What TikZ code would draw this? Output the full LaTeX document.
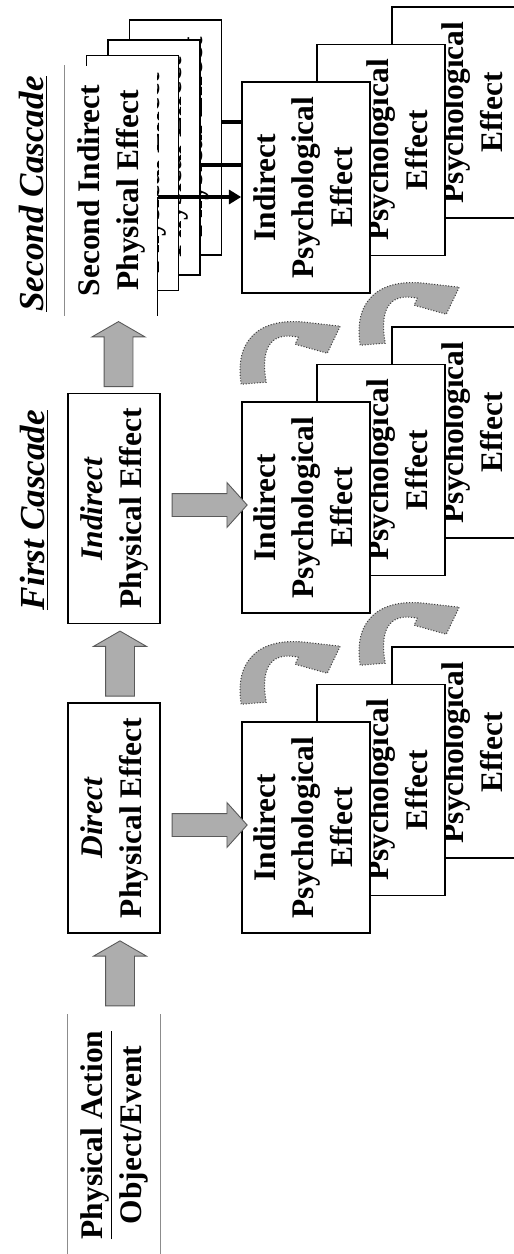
\documentclass[tikz,border=0pt]{standalone}
\usepackage{fontspec}
\setmainfont{Liberation Serif}
\usetikzlibrary{positioning,calc,shapes.arrows,arrows.meta}

\newcommand{\vtext}[1]{\rotatebox{90}{\begin{tabular}{@{}c@{}}#1\end{tabular}}}

\begin{document}
\begin{tikzpicture}[
box/.style={rectangle, draw, fill=white, line width=0.9pt, minimum width=1.84cm, minimum height=4.6cm, inner sep=0pt, font=\fontsize{17.9}{22}\selectfont\bfseries},
psybox/.style={box, minimum width=2.56cm, minimum height=4.22cm},
stackbox/.style={box, minimum height=4.7cm},
openbox/.style={box, draw=none},
edge/.style={line width=0.8pt, black!45},
heading/.style={font=\fontsize{20}{24}\selectfont\bfseries\itshape, inner sep=0pt},
blockarrow/.style={single arrow, draw=black!65, line width=0.5pt, fill=black!32},
uparrow/.style={blockarrow, shape border rotate=90, inner sep=0.28cm, minimum height=1.3cm, single arrow head extend=0.24cm, single arrow tip angle=120},
rightarrow/.style={blockarrow, inner sep=0.22cm, minimum height=1.5cm, single arrow head extend=0.22cm, single arrow tip angle=96},
feed/.style={line width=1.8pt},
curvy/.style={fill=black!33, draw=black!75, densely dotted, line width=0.6pt},
bendarrow/.pic={
  \path[curvy] (-0.24,-0.04) .. controls (-0.38,0.82) and (0.10,1.30) .. (1.04,1.20)
    -- (1.74,1.12) -- (1.48,0.58) -- (0.84,0.76) -- (0.90,0.90)
    .. controls (0.44,1.00) and (0.12,0.80) .. (0.26,0) -- cycle;
}
]
\useasboundingbox (0,0) rectangle (10.28,-25.08);

% headings
\node[heading] (second) at (0.66,-3.88) {\rotatebox{90}{\underline{Second Cascade}}};
\node[heading] (first) at (0.68,-10.20) {\rotatebox{90}{\underline{First Cascade}}};

% physical column
\node[openbox, minimum height=4.8cm] (action) at (2.28,-22.70) {\vtext{\underline{Physical Action}\\Object/Event}};
\draw[edge] (action.north west) -- (action.south west);
\draw[edge] (action.north east) -- (action.south east);

\node[box] (direct) at (2.28,-16.36) {\vtext{\textit{Direct}\\Physical Effect}};
\node[box] (indirect) at (2.28,-10.17) {\vtext{\textit{Indirect}\\Physical Effect}};

% second cascade stack
\node[stackbox] (stackC) at (3.51,-2.75) {\vtext{\phantom{Second Indirect}\\Physical Effect}};
\node[stackbox] (stackB) at (3.08,-3.15) {\vtext{\phantom{Second Indirect}\\Physical Effect}};
\node[stackbox] (stackA) at (2.65,-3.46) {\vtext{\phantom{Second Indirect}\\Physical Effect}};
\node[openbox, minimum height=4.98cm] (stackF) at (2.22,-3.81) {\vtext{Second Indirect\\Physical Effect}};
\draw[edge] (stackF.north west) -- (stackF.south west);

% psychological effects
\node[psybox] (psy0c) at (9.12,-2.25) {\vtext{Indirect\\Psychological\\Effect}};
\node[psybox] (psy0b) at (7.62,-3.00) {\vtext{Indirect\\Psychological\\Effect}};
\node[psybox] (psy0) at (6.12,-3.75) {\vtext{Indirect\\Psychological\\Effect}};

\node[psybox] (psy1c) at (9.12,-8.65) {\vtext{Indirect\\Psychological\\Effect}};
\node[psybox] (psy1b) at (7.62,-9.40) {\vtext{Indirect\\Psychological\\Effect}};
\node[psybox] (psy1) at (6.12,-10.15) {\vtext{Indirect\\Psychological\\Effect}};

\node[psybox] (psy2c) at (9.12,-15.05) {\vtext{Indirect\\Psychological\\Effect}};
\node[psybox] (psy2b) at (7.62,-15.80) {\vtext{Indirect\\Psychological\\Effect}};
\node[psybox] (psy2) at (6.12,-16.55) {\vtext{Indirect\\Psychological\\Effect}};

% block arrows
\node[uparrow] (lift1) at ($(action.north)!0.5!(direct.south)+(0.12,-0.07)$) {};
\node[uparrow] (lift2) at ($(direct.north)!0.5!(indirect.south)+(0.12,-0.09)$) {};
\node[uparrow] (lift3) at ($(indirect.north)!0.5!(stackF.south)+(0.12,-0.08)$) {};

\node[rightarrow] (push1) at ($(indirect.east)!0.5!(psy1.west)+(0.07,0.06)$) {};
\node[rightarrow] (push2) at ($(direct.east)!0.5!(psy2.west)+(0.07,-0.045)$) {};

% feeds from the stack
\coordinate (feedC) at ([yshift=0.31cm]stackC.east);
\coordinate (feedB) at ([yshift=-0.15cm]stackB.east);
\coordinate (feedA) at ([yshift=-0.13cm]stackF.east);
\draw[feed] (feedC) -- (feedC -| psy0.west);
\draw[feed] (feedB) -- (feedB -| psy0.west);
\draw[feed, -{Triangle[length=7pt,width=8pt]}] (feedA) -- (feedA -| psy0.west);
\draw[line width=0.8pt] (feedA) -- (stackF.south east);

% curved arrows
\pic at ([shift={(0.24,0.38)}]psy1.north west) {bendarrow};
\pic at ([shift={(1.12,0.41)}]psy1b.north west) {bendarrow};
\pic at ([shift={(0.24,0.38)}]psy2.north west) {bendarrow};
\pic at ([shift={(1.12,0.41)}]psy2b.north west) {bendarrow};

\end{tikzpicture}
\end{document}
